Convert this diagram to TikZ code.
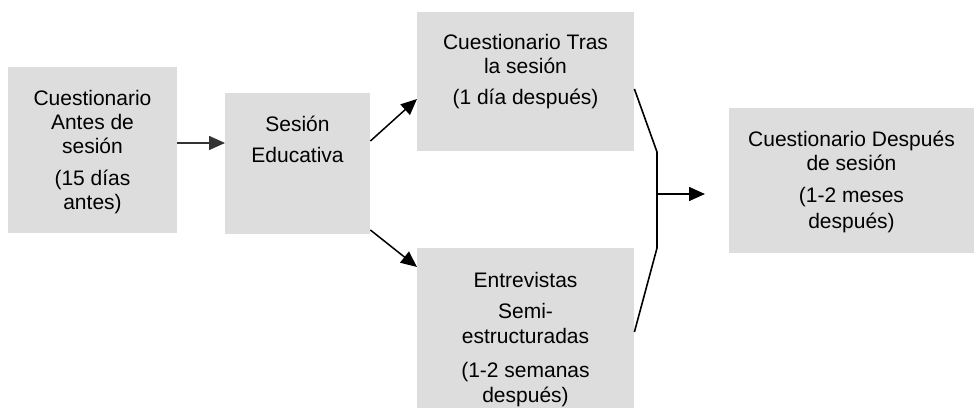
\documentclass[tikz,border=0pt]{standalone}
\usepackage{fontspec}
\setmainfont{Liberation Sans}
\usetikzlibrary{arrows.meta,calc}
\definecolor{boxgray}{HTML}{DDDDDD}
\definecolor{arrgray}{HTML}{333333}
\tikzset{
  stagebox/.style={fill=boxgray, draw=none, inner sep=0pt, anchor=north west},
  stagetext/.style={inner sep=0pt, anchor=north, align=center, font=\fontsize{21}{24}\selectfont},
  flowarrow/.style={line width=1.5pt, -{Triangle[length=16pt,width=14pt]}},
  bracketline/.style={line width=1.6pt},
}
\begin{document}
\begin{tikzpicture}[x=1pt,y=-1pt]
\useasboundingbox (0,0) rectangle (974,409);
% boxes
\node[stagebox, minimum width=169pt, minimum height=166pt] (b1) at (8,67) {};
\node[stagebox, minimum width=145pt, minimum height=141pt] (b2) at (225,93) {};
\node[stagebox, minimum width=217pt, minimum height=139pt] (b3) at (417,12) {};
\node[stagebox, minimum width=217pt, minimum height=160pt] (b4) at (417,248) {};
\node[stagebox, minimum width=245pt, minimum height=145pt] (b5) at (729,108) {};
% texts
\node[stagetext] (t1) at (92.5,90) {Cuestionario\\Antes de\\sesión\\[8pt](15 días\\antes)};
\node[stagetext] (t2) at (297.5,116) {Sesión\\[7pt]Educativa};
\node[stagetext] (t3) at (525.5,34) {Cuestionario Tras\\la sesión\\[7pt](1 día después)};
\node[stagetext] (t4) at (525.5,272) {Entrevistas\\[7pt]Semi-\\[1pt]estructuradas\\[10pt](1-2 semanas\\[1pt]después)};
\node[stagetext] (t5) at (851.5,131) {Cuestionario Después\\de sesión\\[8pt](1-2 meses\\[2pt]después)};
% arrows
\draw[flowarrow, draw=arrgray, fill=arrgray] (b1.east |- 0,143) -- (b2.west |- 0,143);
\draw[flowarrow] (b2.east |- 0,141) -- (b3.west |- 0,99);
\draw[flowarrow] (b2.east |- 0,230) -- (b4.west |- 0,267);
% bracket
\coordinate (k1) at (657,152);
\coordinate (k2) at (657,248);
\coordinate (km) at (657,194);
\coordinate (tip) at (705,194);
\draw[bracketline] (b3.east |- 0,89) -- (k1) -- (k2) -- (b4.east |- 0,332);
\draw[flowarrow] (km) -- (tip);
\end{tikzpicture}
\end{document}
